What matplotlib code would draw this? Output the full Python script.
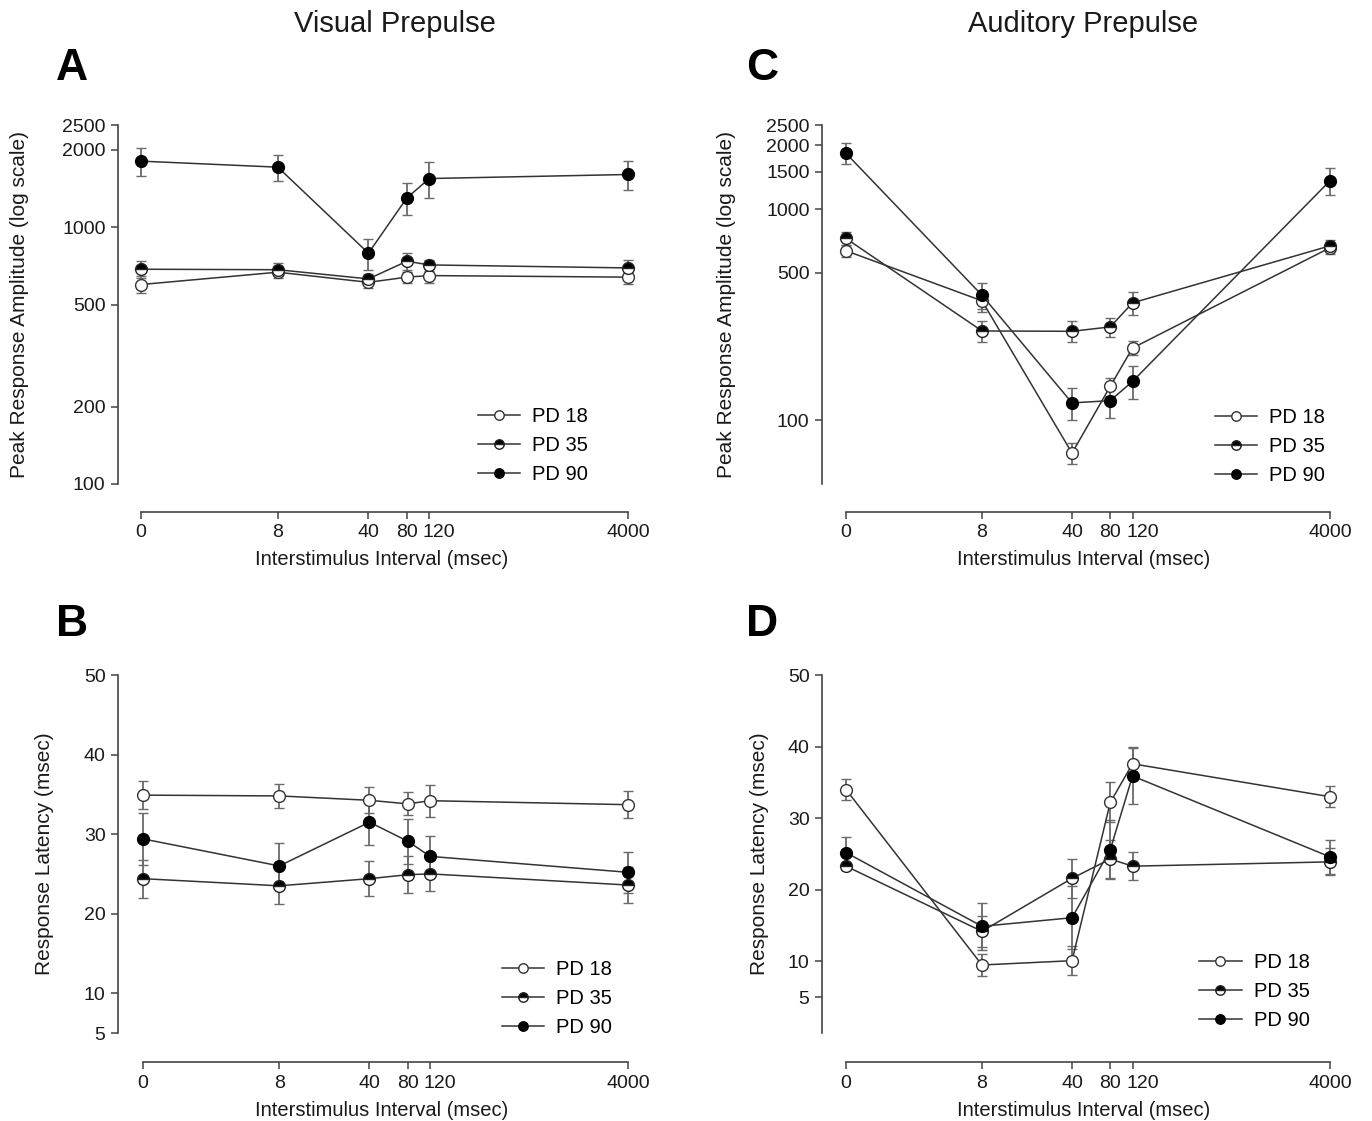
import matplotlib
matplotlib.use('Agg')
import matplotlib.pyplot as plt
from matplotlib.transforms import ScaledTranslation
import numpy as np

plt.rcParams['font.family'] = ['Liberation Sans', 'DejaVu Sans']

# interstimulus intervals (msec)
isi_labels = ['0', '8', '40', '80', '120', '4000']
groups = ['PD 18', 'PD 35', 'PD 90']

# A: visual prepulse, peak amplitude (mean, sem)
vis_amp_pd18 = [598, 668, 610, 639, 648, 639]
vis_amp_pd18_sem = [45, 35, 31, 30, 40, 40]
vis_amp_pd35 = [686, 683, 629, 737, 713, 694]
vis_amp_pd35_sem = [51, 40, 30, 57, 35, 48]
vis_amp_pd90 = [1808, 1713, 792, 1301, 1547, 1604]
vis_amp_pd90_sem = [230, 200, 108, 187, 244, 209]

# B: visual prepulse, latency
vis_lat_pd18 = [34.9, 34.8, 34.25, 33.8, 34.2, 33.7]
vis_lat_pd18_sem = [1.8, 1.5, 1.65, 1.45, 2.0, 1.7]
vis_lat_pd35 = [24.4, 23.5, 24.4, 24.9, 25.0, 23.6]
vis_lat_pd35_sem = [2.4, 2.3, 2.2, 2.3, 2.2, 2.3]
vis_lat_pd90 = [29.4, 26.0, 31.5, 29.1, 27.2, 25.2]
vis_lat_pd90_sem = [3.3, 2.9, 2.9, 2.8, 2.6, 2.6]

# C: auditory prepulse, peak amplitude
aud_amp_pd18 = [635, 368, 70, 145, 220, 656]
aud_amp_pd18_sem = [40, 42, 8, 14, 17, 40]
aud_amp_pd35 = [726, 265, 264, 277, 360, 670]
aud_amp_pd35_sem = [52, 30, 30, 29, 46, 43]
aud_amp_pd90 = [1836, 391, 121, 124, 153, 1362]
aud_amp_pd90_sem = [210, 56, 21, 21, 27, 196]

# D: auditory prepulse, latency
aud_lat_pd18 = [34.0, 9.5, 10.1, 32.2, 37.6, 33.0]
aud_lat_pd18_sem = [1.5, 1.6, 2.0, 2.8, 2.3, 1.5]
aud_lat_pd35 = [23.3, 14.2, 21.6, 24.3, 23.3, 23.9]
aud_lat_pd35_sem = [0.5, 2.2, 2.7, 2.7, 2.0, 1.9]
aud_lat_pd90 = [25.2, 14.9, 16.1, 25.6, 35.9, 24.6]
aud_lat_pd90_sem = [2.2, 3.3, 4.4, 4.1, 3.9, 2.35]

# horizontal placement of the ISI categories on the axis
xpos = np.array([0, 0.281, 0.467, 0.546, 0.592, 1.0])

W, H = 1372, 1121
fig = plt.figure(figsize=(W / 100, H / 100), dpi=100)

LINE_C = '#333333'
ERR_C = '#6a6a6a'
AX_C = '#444444'
TXT_C = '#1a1a1a'
styles = [
    dict(mfc='white', mec='#333333', fillstyle='full'),
    dict(mfc='black', mec='#222222', fillstyle='top', markerfacecoloralt='white'),
    dict(mfc='black', mec='black', fillstyle='full'),
]


def px_axes(left, right, top, bottom):
    return fig.add_axes([left / W, 1 - bottom / H, (right - left) / W, (bottom - top) / H])


def draw_panel(ax, series, sems, x0_px, x1_px, left_px, right_px, log, ylim, yticks,
               ylabel, ylab_x, xlab_y, leg_anchor, xoff):
    scale = x1_px - x0_px
    handles = []
    for vals, err, lab, st in zip(series, sems, groups, styles):
        cont = ax.errorbar(xpos, vals, yerr=err, color=LINE_C, lw=1.1, marker='o', ms=8.5,
                           mew=1.0, ecolor=ERR_C, elinewidth=1.3, capsize=3.5, capthick=1.3,
                           label=lab, zorder=3, **st)
        handles.append(cont[0])
    if log:
        ax.set_yscale('log')
    ax.set_ylim(*ylim)
    ax.set_yticks(yticks)
    ax.set_yticklabels([str(t) for t in yticks])
    ax.yaxis.set_minor_locator(matplotlib.ticker.NullLocator())
    ax.set_xlim(-(x0_px - left_px) / scale, (right_px - x0_px) / scale)
    ax.set_xticks(xpos)
    ax.set_xticklabels(isi_labels)
    for s in ['top', 'right']:
        ax.spines[s].set_visible(False)
    for s in ['left', 'bottom']:
        ax.spines[s].set_color(AX_C)
        ax.spines[s].set_linewidth(1.2)
    ax.spines['bottom'].set_position(('outward', xoff))
    ax.spines['bottom'].set_bounds(0, 1)
    ax.tick_params(axis='both', direction='out', length=5, width=1.1, color=AX_C,
                   labelsize=14, labelcolor=TXT_C, pad=4)
    # the "120" label sits a little right of its tick, as in the original
    lbl = ax.get_xticklabels()[4]
    lbl.set_transform(lbl.get_transform() + ScaledTranslation(0.1, 0, fig.dpi_scale_trans))
    ax.set_ylabel(ylabel, fontsize=15, color=TXT_C)
    ax.yaxis.set_label_coords(ylab_x, 0.5)
    ax.set_xlabel('Interstimulus Interval (msec)', fontsize=14.5, color=TXT_C)
    ax.xaxis.set_label_coords(0.5, xlab_y)
    ax.legend(handles, groups, loc='lower right', bbox_to_anchor=leg_anchor, frameon=False,
              fontsize=14.5, handlelength=2.1, handletextpad=0.6, labelspacing=0.5,
              borderaxespad=0, borderpad=0.2, markerscale=0.8)


# A
axA = px_axes(118, 645, 125, 484)
draw_panel(axA, [vis_amp_pd18, vis_amp_pd35, vis_amp_pd90],
           [vis_amp_pd18_sem, vis_amp_pd35_sem, vis_amp_pd90_sem],
           141, 628, 118, 645, True, (100, 2500), [100, 200, 500, 1000, 2000, 2500],
           'Peak Response Amplitude (log scale)', -0.169, -0.185, (0.9, -0.012), 20)

# C
axC = px_axes(822, 1345, 125, 484)
draw_panel(axC, [aud_amp_pd18, aud_amp_pd35, aud_amp_pd90],
           [aud_amp_pd18_sem, aud_amp_pd35_sem, aud_amp_pd90_sem],
           846, 1330, 822, 1345, True, (50, 2500), [100, 500, 1000, 1500, 2000, 2500],
           'Peak Response Amplitude (log scale)', -0.164, -0.185, (0.97, -0.015), 20)

# B
axB = px_axes(118, 645, 675, 1033)
draw_panel(axB, [vis_lat_pd18, vis_lat_pd35, vis_lat_pd90],
           [vis_lat_pd18_sem, vis_lat_pd35_sem, vis_lat_pd90_sem],
           143, 628, 118, 645, False, (5, 50), [5, 10, 20, 30, 40, 50],
           'Response Latency (msec)', -0.121, -0.19, (0.945, -0.022), 21)

# D
axD = px_axes(822, 1345, 675, 1033)
draw_panel(axD, [aud_lat_pd18, aud_lat_pd35, aud_lat_pd90],
           [aud_lat_pd18_sem, aud_lat_pd35_sem, aud_lat_pd90_sem],
           846, 1330, 822, 1345, False, (0, 50), [5, 10, 20, 30, 40, 50],
           'Response Latency (msec)', -0.102, -0.19, (0.94, -0.002), 21)

fig.text(395 / W, 1 - 24 / H, 'Visual Prepulse', ha='center', va='center', fontsize=21, color=TXT_C)
fig.text(1083 / W, 1 - 24 / H, 'Auditory Prepulse', ha='center', va='center', fontsize=21, color=TXT_C)
for lab, x, y in [('A', 72, 69), ('B', 72, 624), ('C', 762, 69), ('D', 762, 624)]:
    fig.text(x / W, 1 - y / H, lab, ha='center', va='center', fontsize=32, fontweight='bold')

fig.savefig('out.png', dpi=100)
